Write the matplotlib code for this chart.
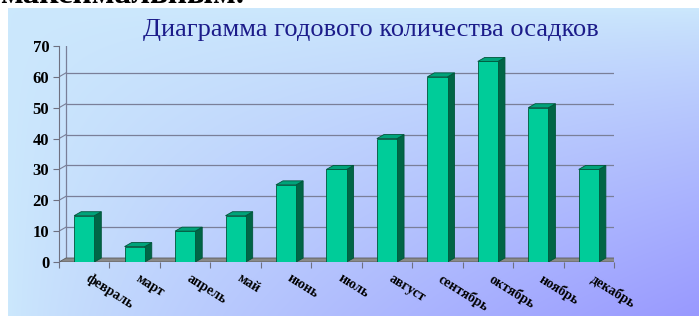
import numpy as np
import matplotlib
matplotlib.use('Agg')
import matplotlib.pyplot as plt
from matplotlib.patches import Polygon
from matplotlib.lines import Line2D
from matplotlib.transforms import IdentityTransform, ScaledTranslation

months = ["февраль", "март", "апрель", "май", "июнь", "июль",
          "август", "сентябрь", "октябрь", "ноябрь", "декабрь"]
precip = [15, 5, 10, 15, 25, 30, 40, 60, 65, 50, 30]
yticks = [0, 10, 20, 30, 40, 50, 60, 70]
title = "Диаграмма годового количества осадков"
cut_text = "максимальным."

W, H = 699, 316
fig = plt.figure(figsize=(W / 100, H / 100), dpi=100)
fig.patch.set_facecolor('white')

# cut-off text line at the very top (only its lower part is visible)
fig.text(0.0, 1 - 3 / H, cut_text, ha='left', va='baseline',
         family='Liberation Serif', fontweight='bold', fontsize=24, color='black')

# gradient background panel
bg = fig.add_axes([8 / W, 0, 1 - 8 / W, (H - 8) / H])
xx, yy = np.meshgrid(np.linspace(0, 1, 300), np.linspace(0, 1, 150))
t = np.clip(xx * yy, 0, 1) ** 0.8
c0 = np.array([0.80, 0.91, 0.99])
c1 = np.array([0.60, 0.60, 1.00])
img = c0 + (c1 - c0) * t[..., None]
bg.imshow(img, aspect='auto', interpolation='bilinear')
bg.set_axis_off()

# main (front plane) axes
x0, x1, ytop, ybot = 59, 614, 46, 262
ax = fig.add_axes([x0 / W, (H - ybot) / H, (x1 - x0) / W, (ybot - ytop) / H])
ax.patch.set_alpha(0)
n = len(months)
ax.set_xlim(0, n)
ax.set_ylim(0, 70)
for s in ['top', 'right', 'bottom']:
    ax.spines[s].set_visible(False)
ax.spines['left'].set_color('#6e7080')
ax.spines['left'].set_linewidth(0.8)

ax.set_yticks(yticks)
ax.set_yticklabels([str(v) for v in yticks], family='Liberation Serif',
                   fontweight='bold', fontsize=12)
ax.tick_params(axis='y', length=4, width=0.8, color='#6e7080', pad=3)

xpos = np.arange(n) + 0.5
ax.set_xticks(np.arange(n + 1))
ax.set_xticklabels([])
ax.tick_params(axis='x', which='major', length=4, width=0.8, color='#6e7080', direction='out')
ax.set_xticks(xpos, minor=True)
ax.set_xticklabels(months, minor=True, rotation=-32, ha='left', va='top',
                   rotation_mode='anchor', family='Liberation Serif',
                   fontweight='bold', fontsize=10)
ax.tick_params(axis='x', which='minor', length=0, pad=7)
for lab in ax.get_xticklabels(minor=True):
    lab.set_transform(lab.get_transform() + ScaledTranslation(6 / 100, 0, fig.dpi_scale_trans))

dx, dy = 7, 4
idt = IdentityTransform()


def P(x, y, back=False):
    p = ax.transData.transform((x, y))
    if back:
        p = p + np.array([dx, dy])
    return p


grid_c = '#7a7f98'
# back wall grid lines + side wall diagonals
for v in yticks[1:]:
    ax.add_line(Line2D(*zip(P(0, v, True), P(n, v, True)), transform=idt,
                       color=grid_c, lw=0.9, zorder=1))
    ax.add_line(Line2D(*zip(P(0, v), P(0, v, True)), transform=idt,
                       color=grid_c, lw=0.8, zorder=1))
# back wall vertical edges
for xv in (0, n):
    ax.add_line(Line2D(*zip(P(xv, 0, True), P(xv, 70, True)), transform=idt,
                       color=grid_c, lw=0.9, zorder=1))

# floor
floor = Polygon([P(0, 0), P(n, 0), P(n, 0, True), P(0, 0, True)], closed=True,
                transform=idt, facecolor='#8a8a8a', edgecolor='#5a5a5a', lw=0.6, zorder=2)
ax.add_patch(floor)

bw = 0.4
front_c, side_c, top_c, edge_c = '#00cc99', '#006646', '#00a37a', '#00553a'
bars = ax.bar(xpos, precip, width=bw, color=front_c, edgecolor=edge_c, lw=0.6, zorder=4)
for xc, v in zip(xpos, precip):
    xl, xr = xc - bw / 2, xc + bw / 2
    side = Polygon([P(xr, 0), P(xr, v), P(xr, v, True), P(xr, 0, True)], closed=True,
                   transform=idt, facecolor=side_c, edgecolor=edge_c, lw=0.6, zorder=3)
    top = Polygon([P(xl, v), P(xr, v), P(xr, v, True), P(xl, v, True)], closed=True,
                  transform=idt, facecolor=top_c, edgecolor=edge_c, lw=0.6, zorder=3)
    ax.add_patch(side)
    ax.add_patch(top)

fig.text(371 / W, 1 - 30 / H, title, ha='center', va='center',
         family='Liberation Serif', fontsize=19, color='#1c1c8a')

fig.savefig('out.png', dpi=100)
